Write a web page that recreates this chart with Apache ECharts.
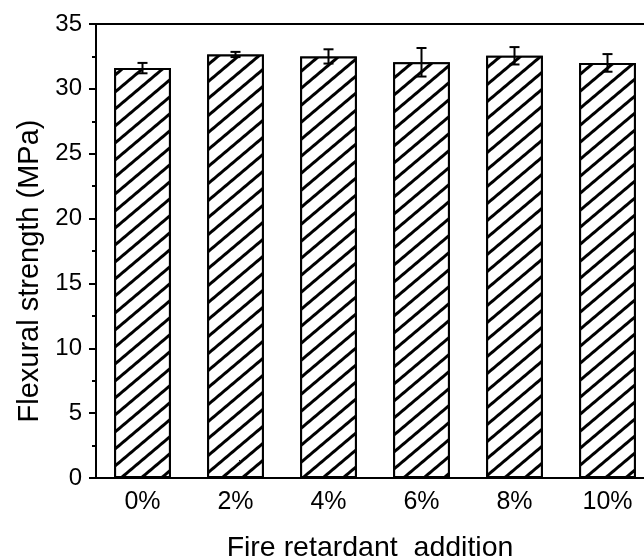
<!DOCTYPE html>
<html>
<head>
<meta charset="utf-8">
<script src="https://cdn.jsdelivr.net/npm/echarts@6/dist/echarts.min.js"></script>
<style>
  html, body { margin: 0; padding: 0; background: #fff; }
  #chart { width: 644px; height: 559px; }
</style>
</head>
<body>
<div id="chart"></div>
<script>
// 数据
const categories = ['0%', '2%', '4%', '6%', '8%', '10%']
const strength = [31.6, 32.65, 32.5, 32.05, 32.55, 32.0]
const errors = [0.4, 0.2, 0.55, 1.1, 0.67, 0.68]
const yTicks = [0, 5, 10, 15, 20, 25, 30, 35]

const font = 'Liberation Sans, Arial, sans-serif'
const myChart = echarts.init(document.querySelector('#chart'))

const option = {
  animation: false,
  backgroundColor: '#fff',
  grid: {
    left: 96,
    right: -10,
    top: 24,
    bottom: 81,
    // 图表右侧超出画布，不做边界收缩
    outerBoundsMode: 'none',
    containLabel: false,
    show: true,
    borderColor: '#000',
    borderWidth: 2,
  },
  xAxis: {
    type: 'category',
    data: categories,
    name: 'Fire retardant  addition',
    nameLocation: 'middle',
    nameGap: 56,
    nameTextStyle: {
      fontFamily: font,
      fontSize: 28.5,
      color: '#000',
      padding: [0, 10, 0, 0],
    },
    axisLine: { lineStyle: { color: '#000', width: 2 } },
    axisTick: { show: false },
    axisLabel: { fontFamily: font, fontSize: 25, color: '#000', margin: 12 },
  },
  yAxis: {
    type: 'value',
    min: yTicks[0],
    max: yTicks[yTicks.length - 1],
    interval: 5,
    name: 'Flexural strength (MPa)',
    nameLocation: 'middle',
    nameGap: 52,
    nameTextStyle: {
      fontFamily: font,
      fontSize: 29,
      color: '#000',
      padding: [0, 40, 0, 0],
    },
    splitLine: { show: false },
    axisLine: { show: true, lineStyle: { color: '#000', width: 2 } },
    axisTick: { show: true, length: 7, lineStyle: { color: '#000', width: 2 } },
    minorTick: { show: true, splitNumber: 2, length: 4, lineStyle: { color: '#000', width: 2 } },
    axisLabel: { fontFamily: font, fontSize: 24, color: '#000', margin: 14 },
  },
  series: [
    {
      type: 'bar',
      data: strength,
      barWidth: '61%',
      itemStyle: {
        color: '#fff',
        borderColor: '#000',
        borderWidth: 2,
        // 斜线填充
        decal: {
          symbol: 'rect',
          symbolSize: 1,
          dashArrayX: [1, 0],
          dashArrayY: [2.4, 9.8],
          rotation: -0.7,
          color: '#000',
          backgroundColor: '#fff',
        },
      },
    },
    {
      // 误差棒
      type: 'custom',
      data: strength.map((v, i) => [i, v - errors[i], v + errors[i]]),
      z: 10,
      renderItem(params, api) {
        const lo = api.coord([api.value(0), api.value(1)])
        const hi = api.coord([api.value(0), api.value(2)])
        const half = 5
        const style = { stroke: '#000', lineWidth: 2 }
        return {
          type: 'group',
          children: [
            { type: 'line', shape: { x1: hi[0], y1: hi[1], x2: lo[0], y2: lo[1] }, style },
            { type: 'line', shape: { x1: hi[0] - half, y1: hi[1], x2: hi[0] + half, y2: hi[1] }, style },
            { type: 'line', shape: { x1: lo[0] - half, y1: lo[1], x2: lo[0] + half, y2: lo[1] }, style },
          ],
        }
      },
    },
  ],
}
myChart.setOption(option)
</script>
</body>
</html>
